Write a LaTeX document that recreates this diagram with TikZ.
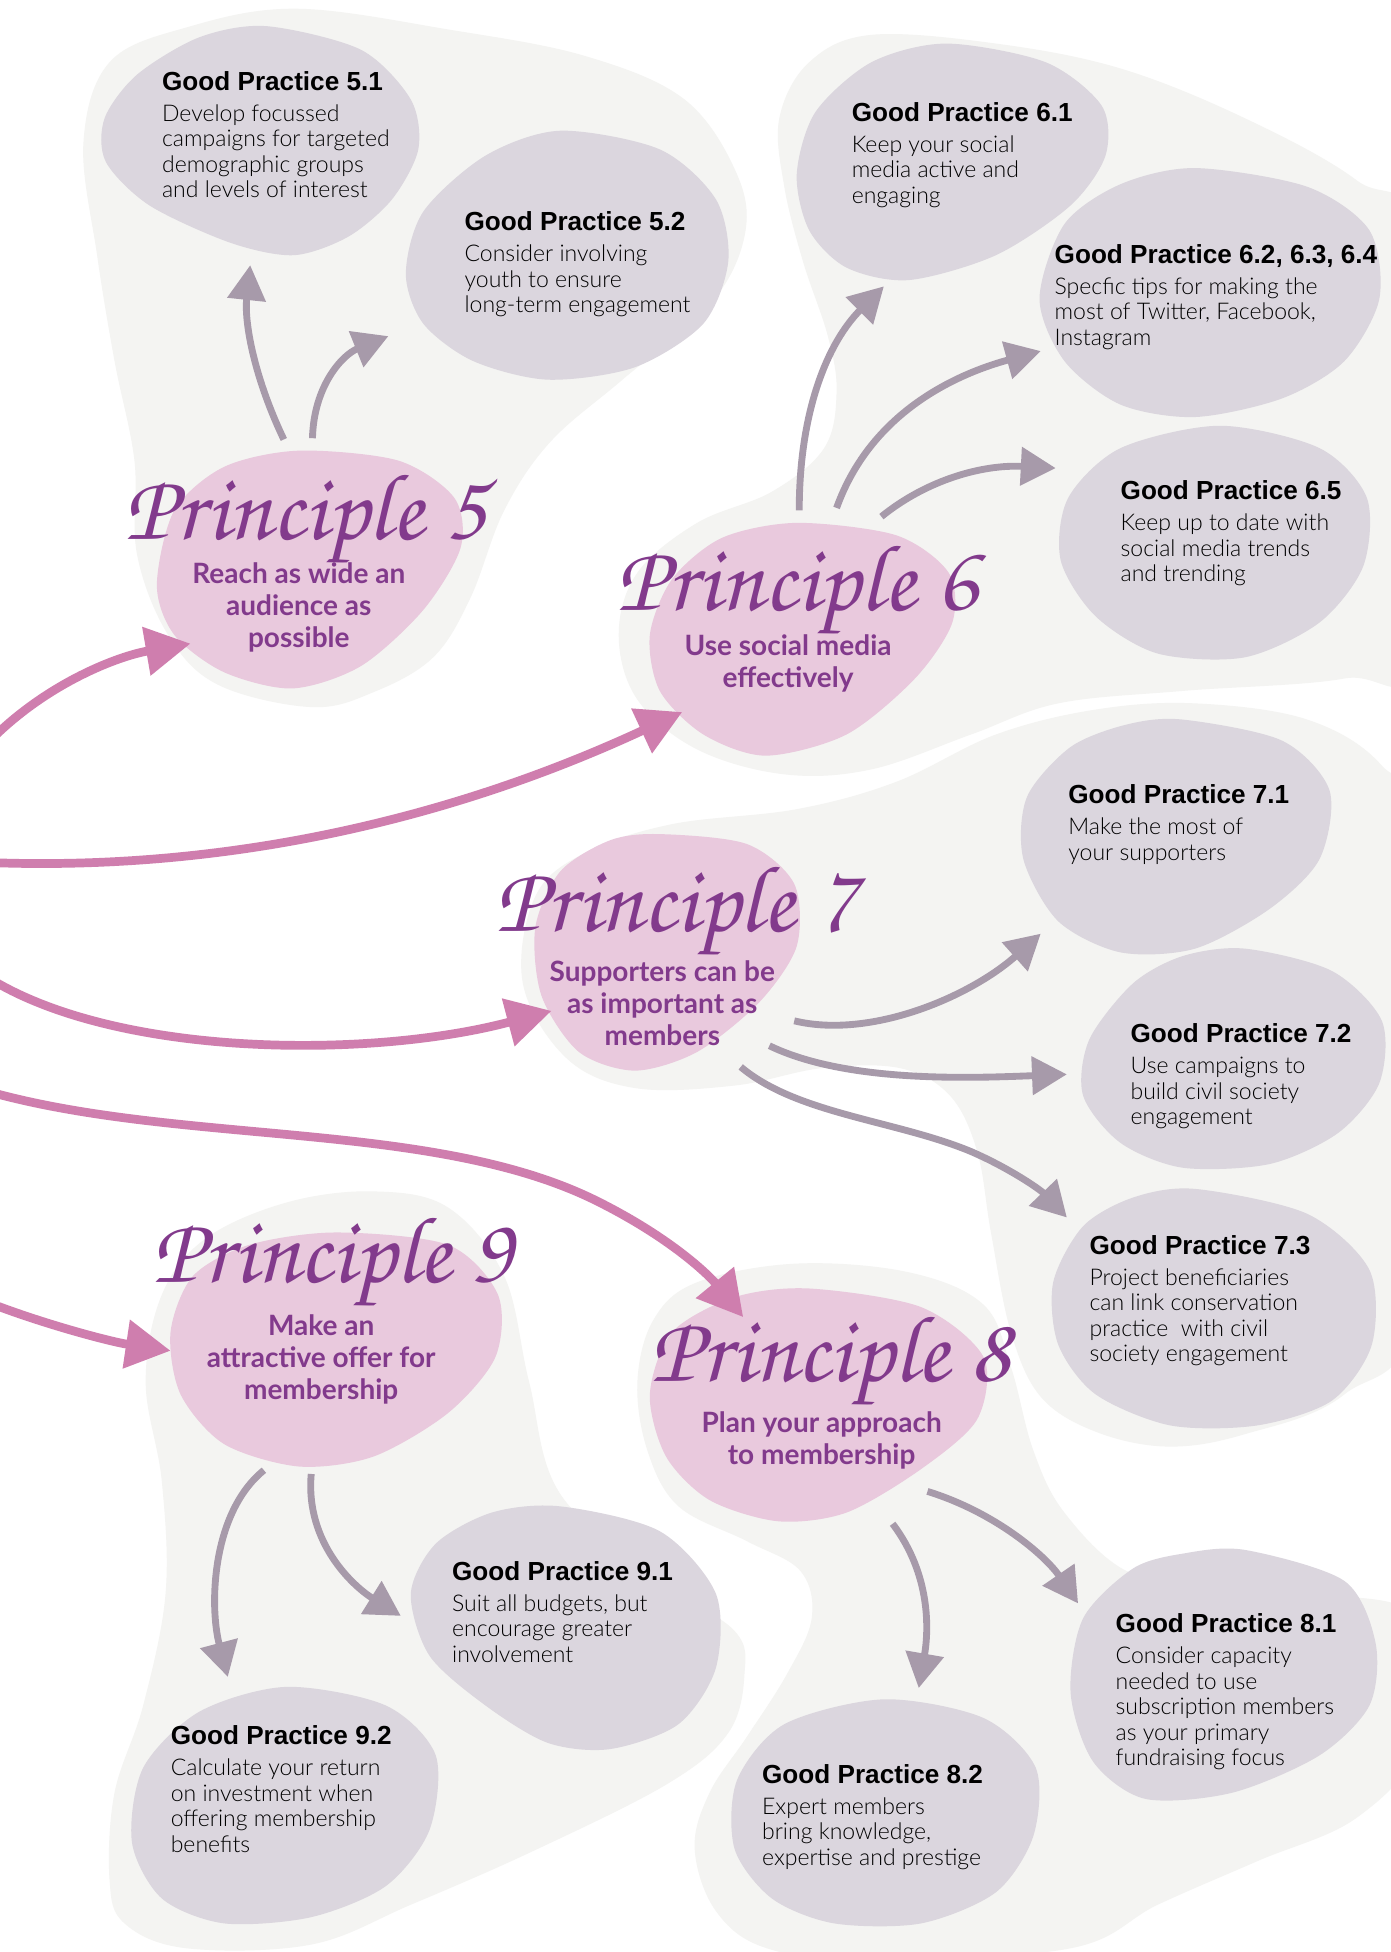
\documentclass[tikz,border=0pt]{standalone}
\usepackage{fontspec}
\newfontfamily\bodyfont{Lato Light}
\newfontfamily\headfont{Liberation Sans}
\newfontfamily\subfont{Lato}
\newfontfamily\handfont{texgyrechorus-mediumitalic.otf}
\usetikzlibrary{arrows.meta,positioning}

\definecolor{bgblob}{HTML}{F4F4F2}
\definecolor{gpblob}{HTML}{DBD6DE}
\definecolor{prblob}{HTML}{E9C9DD}
\definecolor{prtext}{HTML}{823A8C}
\definecolor{pinkarrow}{HTML}{CF7EAE}
\definecolor{grayarrow}{HTML}{A79AAA}

\newcommand{\gphead}[1]{{\headfont\bfseries\fontsize{21}{20.5}\selectfont #1}}

\tikzset{
  bg/.style={fill=bgblob},
  gp/.style={fill=gpblob},
  pr/.style={fill=prblob},
  gptext/.style={anchor=north west,inner sep=0pt,align=left,
    font=\bodyfont\fontsize{18.5}{20.5}\selectfont},
  prhead/.style={anchor=base west,inner sep=0pt,text=prtext,
    font=\handfont\fontsize{76}{76}\selectfont},
  prsub/.style={align=center,inner sep=0pt,text=prtext,
    font=\subfont\bfseries\fontsize{22.5}{25.5}\selectfont},
  link/.style={line width=7pt,pinkarrow,-{Triangle[length=36pt,width=38pt]}},
  leaf/.style={line width=5.5pt,grayarrow,-{Triangle[length=28pt,width=30pt]}},
}

\begin{document}
\begin{tikzpicture}[x=1pt,y=-1pt]
\useasboundingbox (0,0) rectangle (1117,1568);
\fill[white] (0,0) rectangle (1117,1568);

% background areas
\fill[bg] plot[smooth cycle,tension=0.6] coordinates {(67,115) (88,50) (150,22) (238,7) (362,24) (470,45) (550,80) (592,140) (598,190) (570,245) (500,305) (442,355) (405,410) (378,480) (348,528) (300,556) (250,568) (175,550) (135,510) (110,445) (108,370) (92,290) (78,205)};
\fill[bg] plot[smooth cycle,tension=0.6] coordinates {(700,28) (800,35) (900,55) (1000,95) (1090,145) (1140,200) (1140,520) (1080,545) (950,555) (850,565) (780,590) (700,618) (630,622) (560,602) (512,562) (497,510) (512,460) (560,420) (620,395) (662,360) (672,315) (665,270) (645,210) (630,150) (626,95) (650,50)};
\fill[bg] plot[smooth cycle,tension=0.6] coordinates {(430,720) (470,685) (540,662) (640,650) (720,628) (800,590) (880,570) (960,565) (1050,578) (1110,615) (1140,680) (1140,1040) (1080,1120) (1000,1152) (938,1162) (880,1150) (836,1122) (812,1070) (796,990) (785,925) (763,880) (723,858) (660,858) (590,872) (510,874) (455,850) (420,790)};
\fill[bg] plot[smooth cycle,tension=0.6] coordinates {(165,995) (230,966) (300,957) (360,970) (405,1025) (425,1110) (450,1200) (530,1270) (590,1310) (598,1345) (585,1392) (536,1433) (428,1487) (330,1530) (250,1562) (150,1565) (100,1545) (88,1510) (92,1440) (115,1370) (133,1280) (130,1190) (117,1110) (130,1040)};
\fill[bg] plot[smooth cycle,tension=0.6] coordinates {(560,1030) (640,1015) (730,1022) (790,1048) (812,1098) (830,1165) (855,1215) (905,1262) (970,1272) (1050,1280) (1140,1300) (1140,1400) (1090,1460) (1010,1495) (930,1530) (860,1565) (700,1575) (616,1565) (575,1535) (558,1485) (570,1440) (600,1395) (632,1345) (652,1300) (643,1262) (600,1238) (545,1210) (520,1165) (512,1110) (525,1060)};

% good practice blobs
\fill[gp] plot[smooth cycle] coordinates {(214,21) (290,40) (330,80) (336,120) (315,160) (280,190) (236,205) (185,195) (120,165) (85,130) (84,95) (110,60) (160,30)};
\fill[gp] plot[smooth cycle] coordinates {(450,105) (530,120) (575,160) (585,210) (565,260) (510,295) (440,305) (380,290) (340,260) (326,220) (340,170) (390,125)};
\fill[gp] plot[smooth cycle] coordinates {(760,35) (840,50) (885,85) (888,125) (860,165) (800,205) (730,225) (680,215) (650,185) (640,140) (655,90) (700,50)};
\fill[gp] plot[smooth cycle] coordinates {(960,135) (1050,150) (1100,185) (1108,240) (1080,290) (1030,320) (960,335) (900,325) (855,290) (835,240) (855,180) (900,148)};
\fill[gp] plot[smooth cycle] coordinates {(980,342) (1060,360) (1098,400) (1095,455) (1060,500) (1000,528) (930,525) (880,495) (852,450) (858,400) (900,360)};
\fill[gp] plot[smooth cycle] coordinates {(950,578) (1030,595) (1068,635) (1060,690) (1020,730) (960,762) (900,765) (850,740) (822,690) (825,640) (860,600) (905,582)};
\fill[gp] plot[smooth cycle] coordinates {(1000,762) (1070,780) (1110,820) (1108,870) (1075,910) (1020,935) (950,938) (900,918) (870,880) (875,835) (910,790) (950,768)};
\fill[gp] plot[smooth cycle] coordinates {(960,955) (1050,975) (1100,1020) (1102,1080) (1070,1125) (1010,1145) (940,1145) (880,1120) (850,1080) (846,1030) (870,985) (910,962)};
\fill[gp] plot[smooth cycle] coordinates {(450,1210) (530,1230) (575,1280) (575,1340) (545,1385) (490,1405) (440,1400) (390,1370) (345,1330) (330,1280) (350,1240) (395,1215)};
\fill[gp] plot[smooth cycle] coordinates {(230,1355) (310,1370) (350,1410) (345,1470) (310,1515) (250,1540) (180,1545) (130,1525) (106,1480) (115,1420) (160,1375)};
\fill[gp] plot[smooth cycle] coordinates {(710,1365) (790,1380) (832,1420) (830,1475) (800,1520) (740,1545) (670,1545) (620,1525) (590,1485) (592,1430) (630,1385)};
\fill[gp] plot[smooth cycle] coordinates {(1000,1245) (1080,1270) (1105,1320) (1100,1370) (1060,1410) (990,1440) (920,1445) (878,1415) (860,1360) (870,1300) (910,1260) (950,1248)};

% principle blobs
\fill[pr] plot[smooth cycle] coordinates {(240,362) (320,370) (365,400) (370,440) (340,490) (290,535) (235,553) (180,540) (140,510) (126,470) (140,410) (180,375)};
\fill[pr] plot[smooth cycle] coordinates {(640,420) (720,430) (762,460) (765,500) (735,545) (680,590) (615,607) (565,590) (530,555) (522,510) (540,465) (580,432)};
\fill[pr] plot[smooth cycle] coordinates {(530,670) (600,678) (638,710) (640,760) (610,805) (560,845) (510,860) (465,845) (435,800) (430,745) (450,700) (490,675)};
\fill[pr] plot[smooth cycle] coordinates {(270,990) (360,1000) (400,1040) (398,1090) (360,1135) (300,1170) (240,1178) (180,1160) (145,1120) (137,1070) (155,1025) (200,1000)};
\fill[pr] plot[smooth cycle] coordinates {(650,1035) (740,1050) (790,1090) (785,1140) (740,1180) (680,1215) (625,1222) (570,1205) (535,1170) (522,1120) (540,1070) (590,1042)};

% principles
\node[prhead] (pr5) at (100,433) {Principle 5};
\node[prsub] (pr5sub) at (240,488) {Reach as wide an\\audience as\\possible};
\node[prhead] (pr6) at (495,490) {Principle 6};
\node[prsub] (pr6sub) at (633,533) {Use social media\\effectively};
\node[prhead] (pr7) at (398,748) {Principle 7};
\node[prsub] (pr7sub) at (532,806) {Supporters can be\\as important as\\members};
\node[prhead] (pr9) at (122,1030) {Principle 9};
\node[prsub] (pr9sub) at (258,1092) {Make an\\attractive offer for\\membership};
\node[prhead] (pr8) at (522,1110) {Principle 8};
\node[prsub] (pr8sub) at (660,1157) {Plan your approach\\to membership};

% good practices
\node[gptext] (gp51) at (130,57) {\gphead{Good Practice 5.1}\\[4.5pt]Develop focussed\\campaigns for targeted\\demographic groups\\and levels of interest};
\node[gptext] (gp52) at (373,170) {\gphead{Good Practice 5.2}\\[4.5pt]Consider involving\\youth to ensure\\long-term engagement};
\node[gptext] (gp61) at (684,82) {\gphead{Good Practice 6.1}\\[4.5pt]Keep your social\\media active and\\engaging};
\node[gptext] (gp62) at (847,196) {\gphead{Good Practice 6.2, 6.3, 6.4}\\[4.5pt]Specfic tips for making the\\most of Twitter, Facebook,\\Instagram};
\node[gptext] (gp65) at (900,386) {\gphead{Good Practice 6.5}\\[4.5pt]Keep up to date with\\social media trends\\and trending};
\node[gptext] (gp71) at (858,630) {\gphead{Good Practice 7.1}\\[4.5pt]Make the most of\\your supporters};
\node[gptext] (gp72) at (908,822) {\gphead{Good Practice 7.2}\\[4.5pt]Use campaigns to\\build civil society\\engagement};
\node[gptext] (gp73) at (875,992) {\gphead{Good Practice 7.3}\\[4.5pt]Project beneficiaries\\can link conservation\\practice\ \ with civil\\society engagement};
\node[gptext] (gp91) at (363,1254) {\gphead{Good Practice 9.1}\\[4.5pt]Suit all budgets, but\\encourage greater\\involvement};
\node[gptext] (gp92) at (137,1386) {\gphead{Good Practice 9.2}\\[4.5pt]Calculate your return\\on investment when\\offering membership\\benefits};
\node[gptext] (gp82) at (612,1417) {\gphead{Good Practice 8.2}\\[4.5pt]Expert members\\bring knowledge,\\expertise and prestige};
\node[gptext] (gp81) at (896,1296) {\gphead{Good Practice 8.1}\\[4.5pt]Consider capacity\\needed to use\\subscription members\\as your primary\\fundraising focus};

% arrow ends
\coordinate (in5) at (-5,592);   \coordinate (pr5in) at (153,517);
\coordinate (in6) at (-5,693);   \coordinate (pr6in) at (548,572);
\coordinate (in7) at (-5,788);   \coordinate (pr7in) at (443,812);
\coordinate (in8) at (-5,878);   \coordinate (pr8in) at (597,1058);
\coordinate (in9) at (-5,1048);  \coordinate (pr9in) at (137,1085);

\coordinate (pr5a) at (228,353); \coordinate (gp51in) at (201,213);
\coordinate (pr5b) at (251,352); \coordinate (gp52in) at (312,270);
\coordinate (pr6a) at (642,410); \coordinate (gp61in) at (710,230);
\coordinate (pr6b) at (672,408); \coordinate (gp62in) at (836,282);
\coordinate (pr6c) at (708,415); \coordinate (gp65in) at (848,376);
\coordinate (pr7a) at (638,820); \coordinate (gp71in) at (836,750);
\coordinate (pr7b) at (618,840); \coordinate (gp72in) at (857,863);
\coordinate (pr7c) at (595,857); \coordinate (gp73in) at (857,978);
\coordinate (pr9a) at (212,1181); \coordinate (gp92in) at (183,1347);
\coordinate (pr9b) at (250,1184); \coordinate (gp91in) at (322,1298);
\coordinate (pr8a) at (717,1224); \coordinate (gp82in) at (738,1356);
\coordinate (pr8b) at (745,1198); \coordinate (gp81in) at (866,1288);

% links into the principles
\draw[link] (in5) .. controls (40,548) and (95,527) .. (pr5in);
\draw[link] (in6) .. controls (200,700) and (380,650) .. (pr6in);
\draw[link] (in7) .. controls (100,850) and (300,850) .. (pr7in);
\draw[link] (in8) .. controls (150,920) and (350,900) .. (480,965) .. controls (540,995) and (570,1025) .. (pr8in);
\draw[link] (in9) .. controls (40,1065) and (90,1078) .. (pr9in);

% links out to the good practices
\draw[leaf] (pr5a) .. controls (205,305) and (196,260) .. (gp51in);
\draw[leaf] (pr5b) .. controls (252,310) and (275,285) .. (gp52in);
\draw[leaf] (pr6a) .. controls (642,330) and (665,275) .. (gp61in);
\draw[leaf] (pr6b) .. controls (700,330) and (770,300) .. (gp62in);
\draw[leaf] (pr6c) .. controls (745,385) and (790,373) .. (gp65in);
\draw[leaf] (pr7a) .. controls (700,835) and (780,800) .. (gp71in);
\draw[leaf] (pr7b) .. controls (680,870) and (780,866) .. (gp72in);
\draw[leaf] (pr7c) .. controls (640,895) and (720,900) .. (780,925) .. controls (810,938) and (835,955) .. (gp73in);
\draw[leaf] (pr9a) .. controls (170,1215) and (168,1290) .. (gp92in);
\draw[leaf] (pr9b) .. controls (245,1240) and (285,1275) .. (gp91in);
\draw[leaf] (pr8a) .. controls (748,1265) and (746,1310) .. (gp82in);
\draw[leaf] (pr8b) .. controls (800,1215) and (840,1250) .. (gp81in);
\end{tikzpicture}
\end{document}
